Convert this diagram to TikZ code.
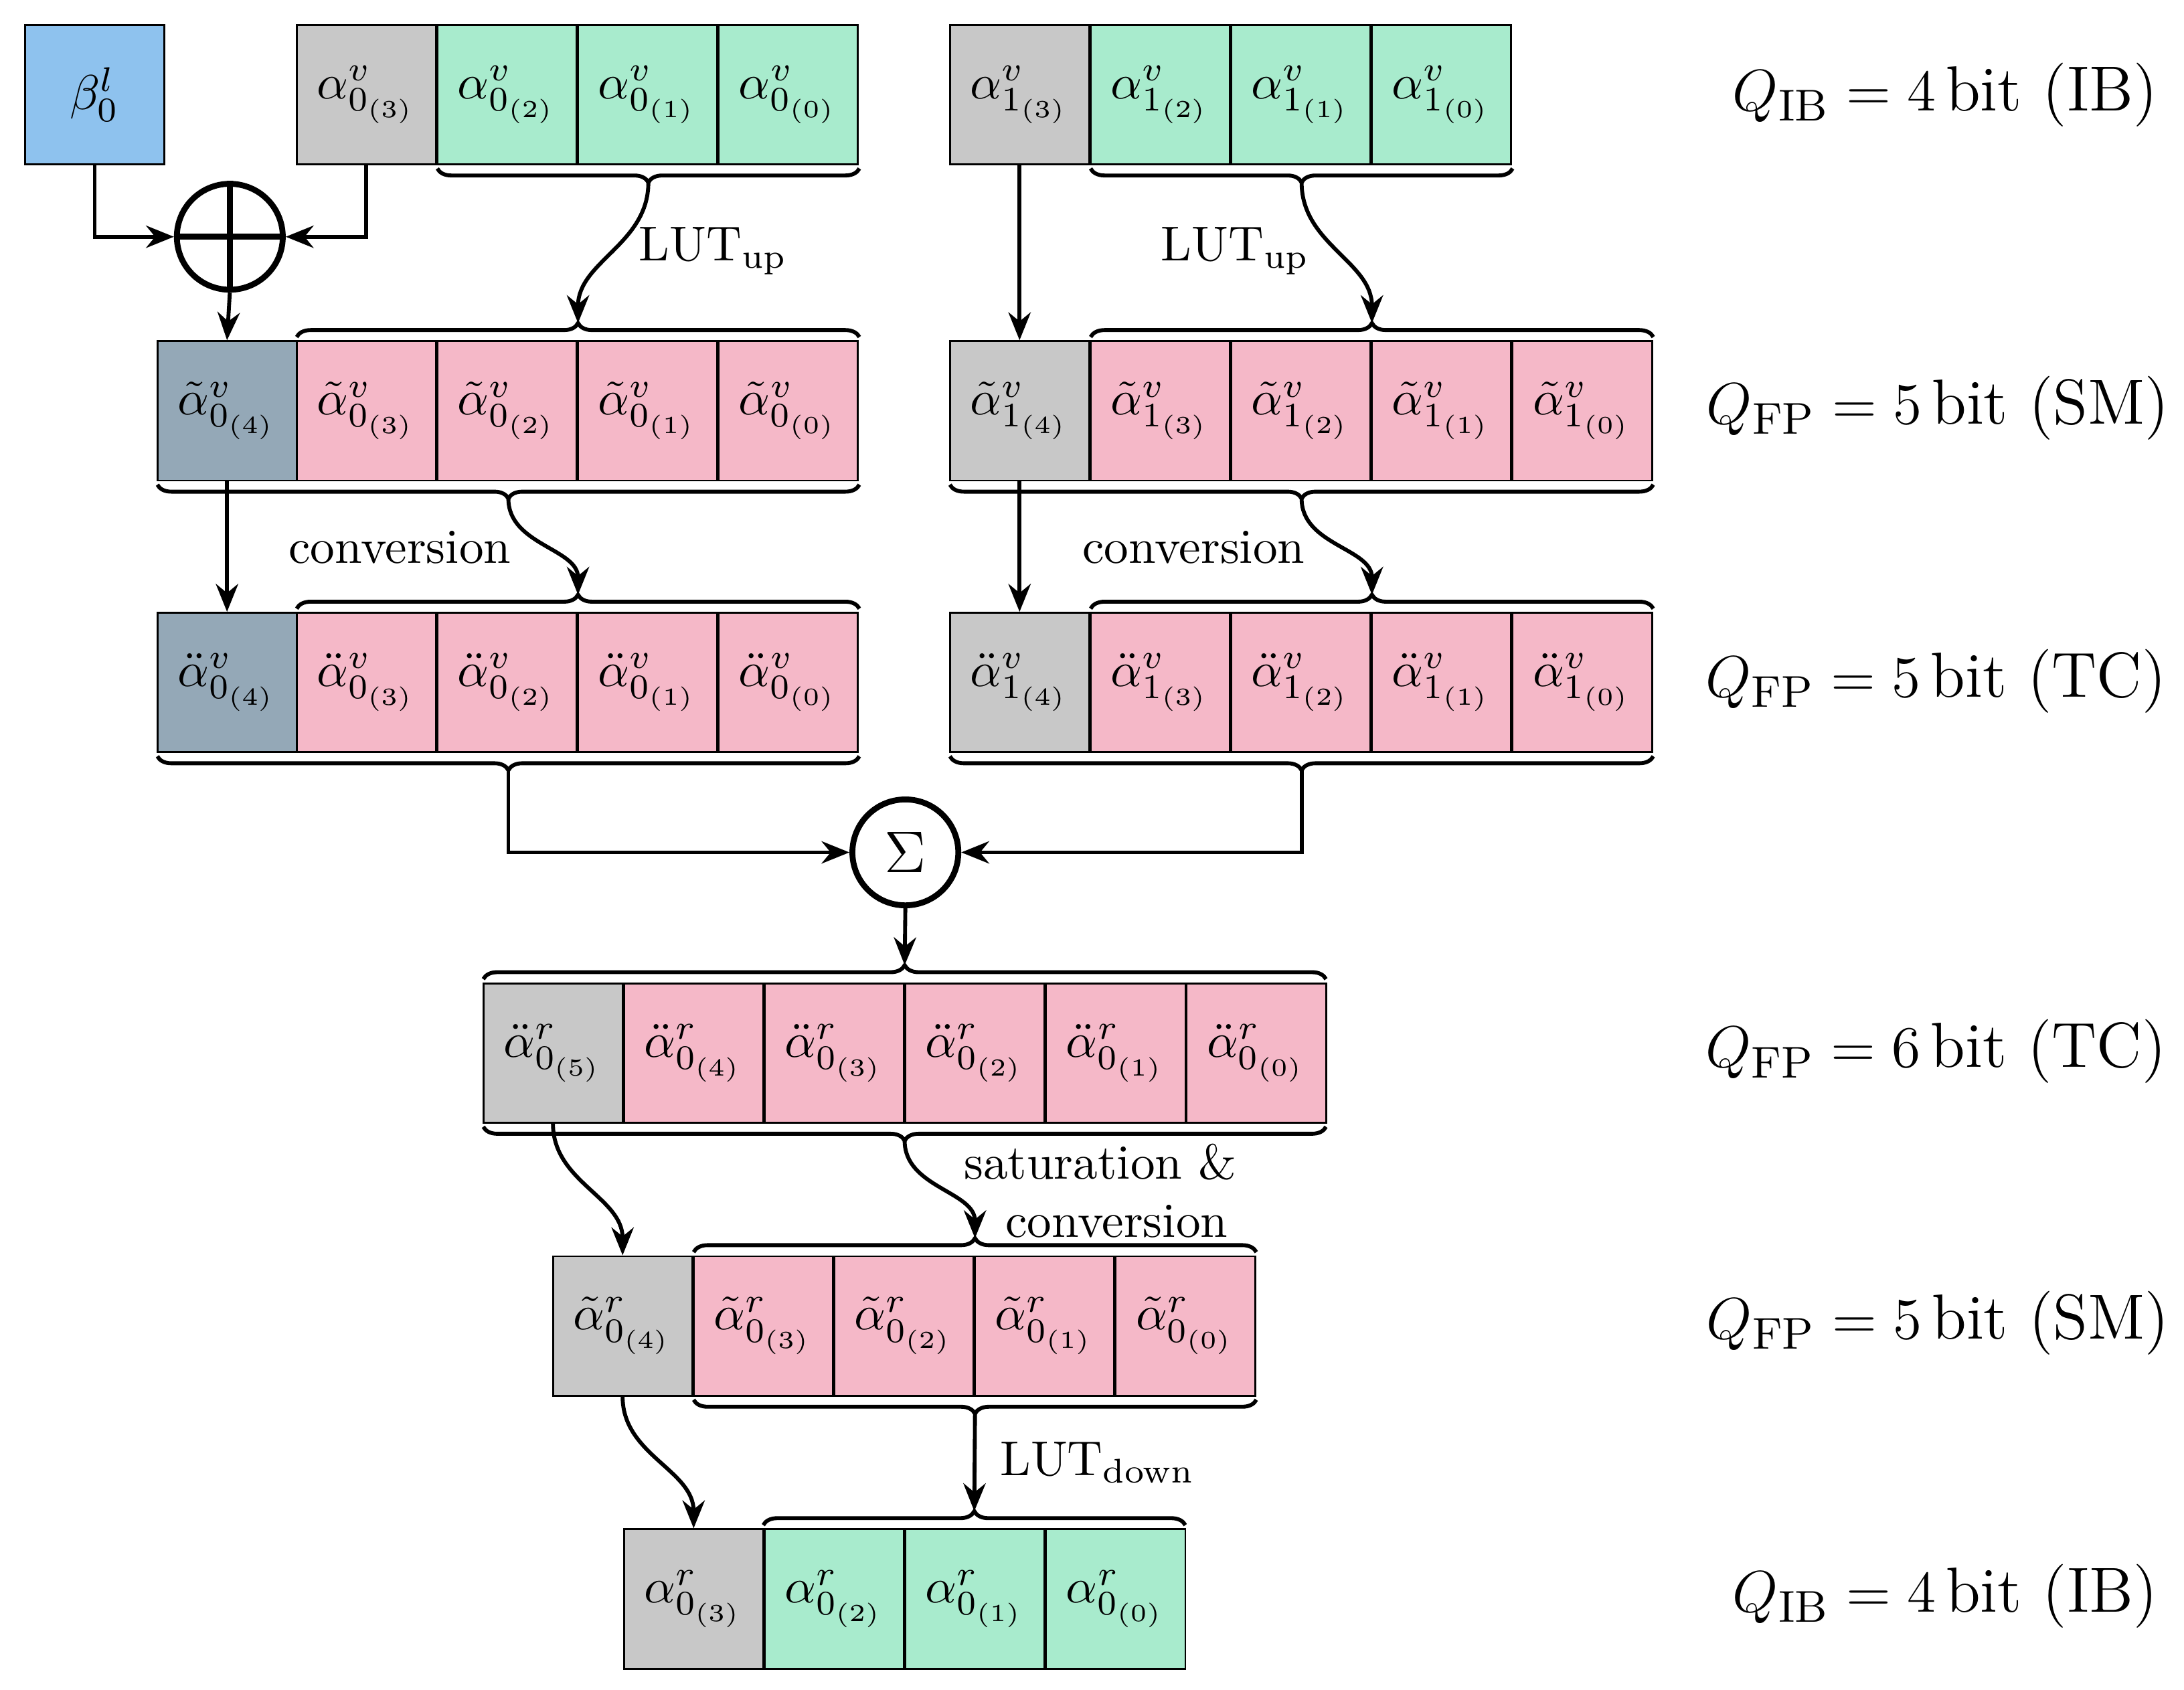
\documentclass[tikz,border=0pt]{standalone}
\usepackage{amsmath}
\usetikzlibrary{decorations.pathreplacing,arrows.meta}
\begin{document}
\begin{tikzpicture}[x=0.01cm,y=-0.01cm,
  box/.style={draw,minimum width=1cm,minimum height=1cm,inner sep=0pt,font=\normalsize},
  gr/.style={box,fill=cgreen}, pk/.style={box,fill=cpink}, gy/.style={box,fill=cgray},
  sl/.style={box,fill=cslate}, bl/.style={box,fill=cblue},
  br/.style={decorate,decoration={brace,amplitude=0.1cm},thick},
  arr/.style={thick,-{Stealth[length=2mm,width=1.6mm]}},
  lab/.style={font=\normalsize},
  ql/.style={font=\fontsize{13}{15}\selectfont,anchor=east,inner sep=0pt}]
\definecolor{cgreen}{HTML}{A8EBCD}
\definecolor{cpink}{HTML}{F5B8C8}
\definecolor{cgray}{HTML}{C8C8C8}
\definecolor{cslate}{HTML}{94A8B7}
\definecolor{cblue}{HTML}{8EC2EE}
\useasboundingbox (0,0) rectangle (1568,1213);
% row 1
\node[bl] (beta) at (68,68) {$\beta^l_0$};
\node[gy] (a03) at (263,68) {$\alpha^v_{0_{(3)}}$};
\node[gr] (a02) at (364,68) {$\alpha^v_{0_{(2)}}$};
\node[gr] (a01) at (465,68) {$\alpha^v_{0_{(1)}}$};
\node[gr] (a00) at (566,68) {$\alpha^v_{0_{(0)}}$};
\node[gy] (a13) at (732,68) {$\alpha^v_{1_{(3)}}$};
\node[gr] (a12) at (833,68) {$\alpha^v_{1_{(2)}}$};
\node[gr] (a11) at (934,68) {$\alpha^v_{1_{(1)}}$};
\node[gr] (a10) at (1035,68) {$\alpha^v_{1_{(0)}}$};
% row 2
\node[sl] (t04) at (163,295) {$\tilde\alpha^v_{0_{(4)}}$};
\node[pk] (t03) at (263,295) {$\tilde\alpha^v_{0_{(3)}}$};
\node[pk] (t02) at (364,295) {$\tilde\alpha^v_{0_{(2)}}$};
\node[pk] (t01) at (465,295) {$\tilde\alpha^v_{0_{(1)}}$};
\node[pk] (t00) at (566,295) {$\tilde\alpha^v_{0_{(0)}}$};
\node[gy] (t14) at (732,295) {$\tilde\alpha^v_{1_{(4)}}$};
\node[pk] (t13) at (833,295) {$\tilde\alpha^v_{1_{(3)}}$};
\node[pk] (t12) at (934,295) {$\tilde\alpha^v_{1_{(2)}}$};
\node[pk] (t11) at (1035,295) {$\tilde\alpha^v_{1_{(1)}}$};
\node[pk] (t10) at (1136,295) {$\tilde\alpha^v_{1_{(0)}}$};
% row 3
\node[sl] (d04) at (163,490) {$\ddot\alpha^v_{0_{(4)}}$};
\node[pk] (d03) at (263,490) {$\ddot\alpha^v_{0_{(3)}}$};
\node[pk] (d02) at (364,490) {$\ddot\alpha^v_{0_{(2)}}$};
\node[pk] (d01) at (465,490) {$\ddot\alpha^v_{0_{(1)}}$};
\node[pk] (d00) at (566,490) {$\ddot\alpha^v_{0_{(0)}}$};
\node[gy] (d14) at (732,490) {$\ddot\alpha^v_{1_{(4)}}$};
\node[pk] (d13) at (833,490) {$\ddot\alpha^v_{1_{(3)}}$};
\node[pk] (d12) at (934,490) {$\ddot\alpha^v_{1_{(2)}}$};
\node[pk] (d11) at (1035,490) {$\ddot\alpha^v_{1_{(1)}}$};
\node[pk] (d10) at (1136,490) {$\ddot\alpha^v_{1_{(0)}}$};
% row 4
\node[gy] (r5) at (397,756) {$\ddot\alpha^r_{0_{(5)}}$};
\node[pk] (r4) at (498,756) {$\ddot\alpha^r_{0_{(4)}}$};
\node[pk] (r3) at (599,756) {$\ddot\alpha^r_{0_{(3)}}$};
\node[pk] (r2) at (700,756) {$\ddot\alpha^r_{0_{(2)}}$};
\node[pk] (r1) at (801,756) {$\ddot\alpha^r_{0_{(1)}}$};
\node[pk] (r0) at (902,756) {$\ddot\alpha^r_{0_{(0)}}$};
% row 5
\node[gy] (s4) at (447,952) {$\tilde\alpha^r_{0_{(4)}}$};
\node[pk] (s3) at (548,952) {$\tilde\alpha^r_{0_{(3)}}$};
\node[pk] (s2) at (649,952) {$\tilde\alpha^r_{0_{(2)}}$};
\node[pk] (s1) at (750,952) {$\tilde\alpha^r_{0_{(1)}}$};
\node[pk] (s0) at (851,952) {$\tilde\alpha^r_{0_{(0)}}$};
% row 6
\node[gy] (o3) at (498,1148) {$\alpha^r_{0_{(3)}}$};
\node[gr] (o2) at (599,1148) {$\alpha^r_{0_{(2)}}$};
\node[gr] (o1) at (700,1148) {$\alpha^r_{0_{(1)}}$};
\node[gr] (o0) at (801,1148) {$\alpha^r_{0_{(0)}}$};
% operators
\node[draw,circle,very thick,minimum size=0.76cm,inner sep=0pt] (xor) at (165,170) {};
\draw[very thick] (xor.north) -- (xor.south) (xor.west) -- (xor.east);
\node[draw,circle,very thick,minimum size=0.76cm,inner sep=0pt,font=\large] (sum) at (650,612) {$\Sigma$};
% braces
\draw[br] (617,121) -- (314,121); \coordinate (b1l) at (465.5,131);
\draw[br] (213,242) -- (617,242); \coordinate (t2l) at (415,232);
\draw[br] (1086,121) -- (783,121); \coordinate (b1r) at (934.5,131);
\draw[br] (783,242) -- (1187,242); \coordinate (t2r) at (985,232);
\draw[br] (617,348) -- (113,348); \coordinate (b2l) at (365,358);
\draw[br] (213,437) -- (617,437); \coordinate (t3l) at (415,427);
\draw[br] (1187,348) -- (682,348); \coordinate (b2r) at (934.5,358);
\draw[br] (783,437) -- (1187,437); \coordinate (t3r) at (985,427);
\draw[br] (617,543) -- (113,543); \coordinate (b3l) at (365,553);
\draw[br] (1187,543) -- (682,543); \coordinate (b3r) at (934.5,553);
\draw[br] (347,703) -- (952,703); \coordinate (t4) at (649.5,693);
\draw[br] (952,809) -- (347,809); \coordinate (b4) at (649.5,819);
\draw[br] (498,899) -- (902,899); \coordinate (t5) at (700,889);
\draw[br] (902,1005) -- (498,1005); \coordinate (b5) at (700,1015);
\draw[br] (548,1095) -- (851,1095); \coordinate (t6) at (699.5,1085);
% connectors
\draw[arr] (beta.south) |- (xor.west);
\draw[arr] (a03.south) |- (xor.east);
\draw[arr] (xor.south) -- (t04.north);
\draw[arr] (b1l) to[out=-90,in=90] (t2l);
\draw[arr] (b1r) to[out=-90,in=90] (t2r);
\draw[arr] (a13.south) -- (t14.north);
\draw[arr] (t04.south) -- (d04.north);
\draw[arr] (t14.south) -- (d14.north);
\draw[arr] (b2l) to[out=-90,in=90] (t3l);
\draw[arr] (b2r) to[out=-90,in=90] (t3r);
\draw[arr] (b3l) |- (sum.west);
\draw[arr] (b3r) |- (sum.east);
\draw[arr] (sum.south) -- (t4);
\draw[arr] (r5.south) to[out=-90,in=90] (s4.north);
\draw[arr] (b4) to[out=-90,in=90] (t5);
\draw[arr] (s4.south) to[out=-90,in=90] (o3.north);
\draw[arr] (b5) -- (t6);
% labels
\node[lab] at (512,180) {LUT$_{\text{up}}$};
\node[lab] at (887,180) {LUT$_{\text{up}}$};
\node[lab] at (287,393) {conversion};
\node[lab] at (857,393) {conversion};
\node[lab,align=center] at (790,855) {saturation \&\\\ \ conversion};
\node[lab] at (788,1050) {LUT$_{\text{down}}$};
\node[ql] at (1550,68) {$Q_{\text{IB}} = 4\,\text{bit (IB)}$};
\node[ql] at (1558,293) {$Q_{\text{FP}} = 5\,\text{bit (SM)}$};
\node[ql] at (1556,489) {$Q_{\text{FP}} = 5\,\text{bit (TC)}$};
\node[ql] at (1556,755) {$Q_{\text{FP}} = 6\,\text{bit (TC)}$};
\node[ql] at (1558,950) {$Q_{\text{FP}} = 5\,\text{bit (SM)}$};
\node[ql] at (1550,1146) {$Q_{\text{IB}} = 4\,\text{bit (IB)}$};
\end{tikzpicture}
\end{document}
